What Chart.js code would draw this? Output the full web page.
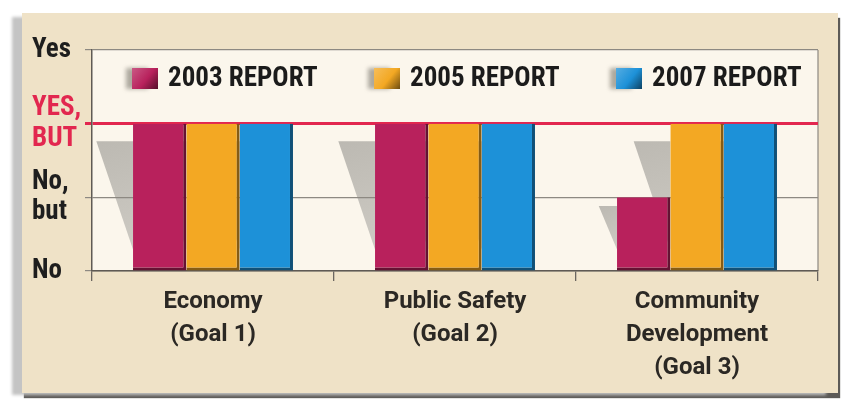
<!DOCTYPE html>
<html>
<head>
<meta charset="utf-8">
<script src="https://cdn.jsdelivr.net/npm/chart.js@4.4.1/dist/chart.umd.min.js"></script>
<style>
  html, body { margin: 0; padding: 0; background: #ffffff; width: 841px; height: 406px; overflow: hidden; }
  #panel {
    position: absolute; left: 22px; top: 13px; width: 816px; height: 380px;
    background: #efe2c7;
    box-shadow: -11px 3px 3px -1px #c4c4c4, 2px 5px 1px #5c5a57;
  }
  #panel canvas { position: absolute; left: 0; top: 0; }
</style>
</head>
<body>
<div id="panel"><canvas id="goals" width="816" height="380"></canvas></div>
<script>
// Goals and how each report rated them (0 = No, 1 = No, but, 2 = Yes, but, 3 = Yes)
const categories = [
  ["Economy", "(Goal 1)"],
  ["Public Safety", "(Goal 2)"],
  ["Community", "Development", "(Goal 3)"]
];
const seriesLabels = ["2003 REPORT", "2005 REPORT", "2007 REPORT"];
const report2003 = [2, 2, 1];
const report2005 = [2, 2, 2];
const report2007 = [2, 2, 2];
const ratingLabels = ["No", ["No,", "but"], ["YES,", "BUT"], "Yes"];
const seriesColors = ["#b8215c", "#f3a823", "#1d91d8"];

const NARROW = '"Roboto Condensed", "DejaVu Sans Condensed", sans-serif';
const SANS = 'Roboto, "Liberation Sans", sans-serif';
const RED = "#e2274f";

function shade(hex, f) {
  const n = parseInt(hex.slice(1), 16);
  let r = (n >> 16) & 255, g = (n >> 8) & 255, b = n & 255;
  const m = c => Math.max(0, Math.min(255, Math.round(f < 0 ? c * (1 + f) : c + (255 - c) * f)));
  return `rgb(${m(r)},${m(g)},${m(b)})`;
}

// Cream plotting field, its right edge, and the slanted drop shadows behind each bar
const backdrop = {
  id: "backdrop",
  beforeDraw(chart) {
    const { ctx, chartArea: a } = chart;
    ctx.save();
    ctx.fillStyle = "#fbf6ec";
    ctx.fillRect(a.left, a.top, a.right - a.left, a.bottom - a.top);
    ctx.strokeStyle = "#8d8982";
    ctx.lineWidth = 1.2;
    ctx.beginPath();
    ctx.moveTo(a.right, a.top);
    ctx.lineTo(a.right, a.bottom);
    ctx.stroke();

    chart.data.datasets.forEach((ds, di) => {
      const meta = chart.getDatasetMeta(di);
      meta.data.forEach(bar => {
        const left = bar.x - bar.width / 2;
        const h = bar.base - bar.y;
        const top = bar.y + h * 0.12;
        const bottom = bar.base - 21;
        const w = h * 0.25;
        const g = ctx.createLinearGradient(left - w, top, left, bottom);
        g.addColorStop(0, "#bcb9b2");
        g.addColorStop(1, "#cdcac3");
        ctx.fillStyle = g;
        ctx.beginPath();
        ctx.moveTo(left - w, top);
        ctx.lineTo(left, top);
        ctx.lineTo(left, bottom);
        ctx.closePath();
        ctx.fill();
      });
    });
    ctx.restore();
  }
};

// Legend row laid out inside the top band of the plot
const reportLegend = {
  id: "reportLegend",
  afterDatasetsDraw(chart) {
    const { ctx, chartArea: a } = chart;
    const n = chart.data.datasets.length;
    const slot = (a.right - a.left) / n;
    const cy = a.top + 28;
    ctx.save();
    chart.data.datasets.forEach((ds, i) => {
      const x0 = a.left + i * slot + 40;
      const base = seriesColors[i];
      ctx.save();
      ctx.filter = "blur(2px)";
      ctx.fillStyle = "rgba(110,105,95,0.55)";
      ctx.fillRect(x0 - 6, cy - 10, 22, 21);
      ctx.restore();
      const g = ctx.createLinearGradient(x0, cy - 10, x0 + 26, cy + 11);
      g.addColorStop(0, shade(base, 0.25));
      g.addColorStop(0.55, base);
      g.addColorStop(1, shade(base, -0.55));
      ctx.fillStyle = g;
      ctx.fillRect(x0, cy - 10, 26, 21);
      ctx.fillStyle = "#1b1b1b";
      ctx.font = `bold 27px ${NARROW}`;
      ctx.textBaseline = "middle";
      ctx.textAlign = "left";
      ctx.fillText(ds.label, x0 + 36, cy + 1);
    });
    ctx.restore();
  }
};

const values = [report2003, report2005, report2007];

new Chart(document.getElementById("goals"), {
  type: "bar",
  data: {
    labels: categories,
    datasets: seriesLabels.map((label, i) => ({
      label,
      data: values[i],
      backgroundColor: seriesColors[i],
      borderColor: shade(seriesColors[i], -0.45),
      borderWidth: { top: 0, left: 0, right: 3, bottom: 3 },
      borderSkipped: false,
      categoryPercentage: 0.661,
      barPercentage: 1.0
    }))
  },
  options: {
    responsive: false,
    animation: false,
    devicePixelRatio: 1,
    layout: { padding: { left: 10, right: 20, top: 37, bottom: 0 } },
    plugins: { legend: { display: false }, tooltip: { enabled: false } },
    scales: {
      x: {
        afterFit(scale) { scale.height = 122; },
        grid: { display: true, drawOnChartArea: false, drawTicks: true, tickLength: 10, color: "#6b6660", lineWidth: 1.3 },
        border: { display: true, color: "#5f5a54", width: 1.5 },
        ticks: {
          color: "#2b2824",
          font: { family: SANS, size: 24, weight: "bold", lineHeight: 1.37 },
          padding: 5,
          maxRotation: 0,
          autoSkip: false
        }
      },
      y: {
        min: 0, max: 3,
        afterFit(scale) { scale.width = 60; },
        grid: {
          drawTicks: true,
          tickLength: 7,
          color: ctx => (ctx.tick && ctx.tick.value === 2 ? RED : "#8d8982"),
          lineWidth: ctx => (ctx.tick && ctx.tick.value === 2 ? 3 : 1.2)
        },
        border: { display: true, color: "#5f5a54", width: 1.5 },
        ticks: {
          stepSize: 1,
          autoSkip: false,
          crossAlign: "far",
          color: ctx => (ctx.tick && ctx.tick.value === 2 ? RED : "#1e1e1e"),
          font: { family: NARROW, size: 27, weight: "bold", lineHeight: 1.12 },
          callback: v => ratingLabels[v]
        }
      }
    }
  },
  plugins: [backdrop, reportLegend]
});
</script>
</body>
</html>
